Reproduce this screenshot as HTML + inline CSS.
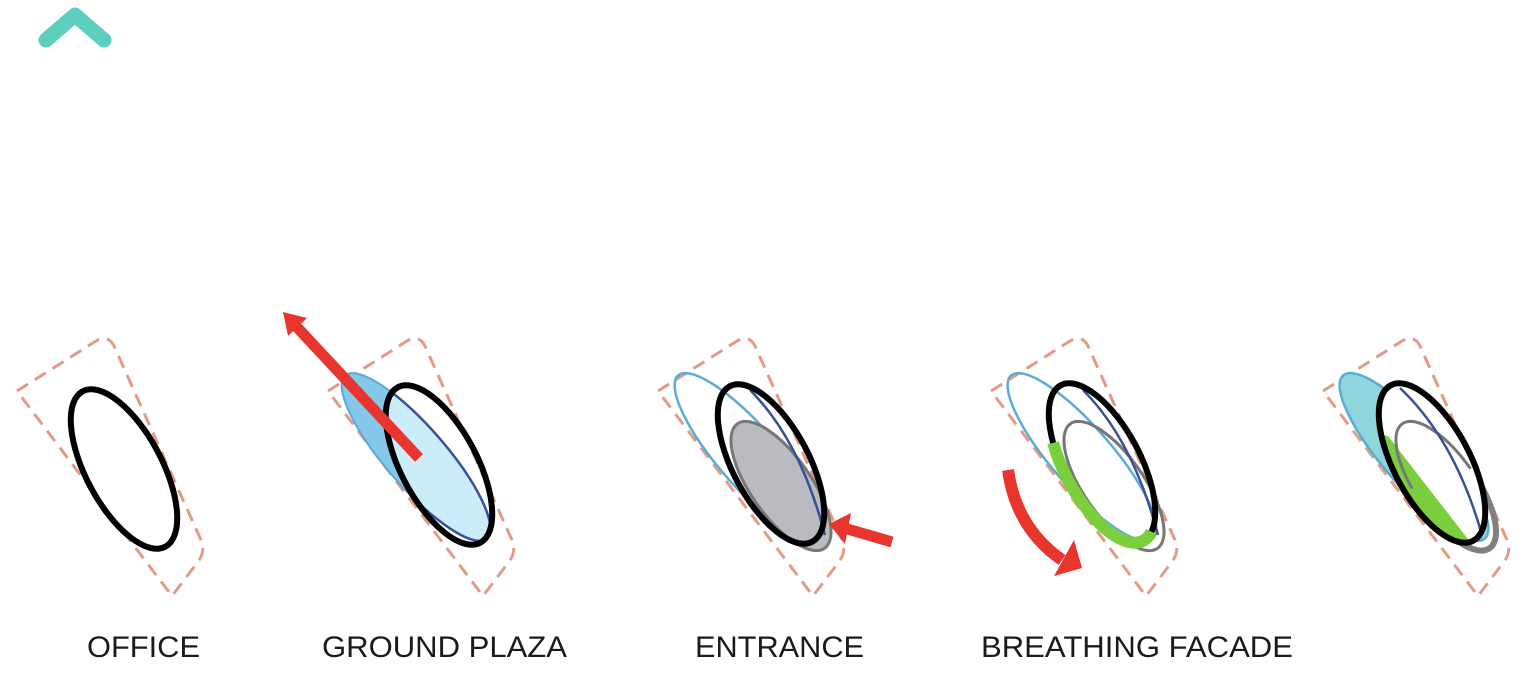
<!DOCTYPE html>
<html><head><meta charset="utf-8"><style>html,body{margin:0;padding:0;background:#fff}svg{display:block}</style></head>
<body>
<svg width="1524" height="674" viewBox="0 0 1524 674" xmlns="http://www.w3.org/2000/svg">
<defs>
<path id="box" d="M17,391 L96,341 Q108,334 114,346 L201,540 Q206,552 197,563 L172,596 Z" fill="none" stroke="#e59a86" stroke-width="3" stroke-dasharray="13 8" stroke-linejoin="round"/>
<clipPath id="cpP"><ellipse cx="0" cy="0" rx="38" ry="88" transform="translate(439,465) rotate(-28)"/></clipPath>
<clipPath id="cpL"><ellipse cx="0" cy="0" rx="38" ry="88" transform="translate(1432,463) rotate(-28)"/></clipPath>
</defs>
<polyline points="46,40 75,15 104,40" fill="none" stroke="#5ccfbf" stroke-width="15" stroke-linecap="round" stroke-linejoin="round"/>

<!-- OFFICE -->
<use href="#box"/>
<ellipse cx="0" cy="0" rx="38" ry="88" transform="translate(124,469) rotate(-28)" fill="none" stroke="#000" stroke-width="6"/>

<!-- GROUND PLAZA -->
<use href="#box" transform="translate(311,0)"/>
<ellipse cx="0" cy="0" rx="30" ry="108" transform="translate(416,457) rotate(-41)" fill="#86c8ea" stroke="#5aa9d6" stroke-width="2"/>
<g clip-path="url(#cpP)"><ellipse cx="0" cy="0" rx="30" ry="108" transform="translate(416,457) rotate(-41)" fill="#cbedf9" stroke="#3a4f9a" stroke-width="2.5"/></g>
<ellipse cx="0" cy="0" rx="38" ry="88" transform="translate(439,465) rotate(-28)" fill="none" stroke="#000" stroke-width="6"/>
<line x1="419" y1="458" x2="294" y2="324" stroke="#e8352e" stroke-width="11"/>
<polygon points="283,312 307,318 288,336" fill="#e8352e"/>

<!-- ENTRANCE -->
<use href="#box" transform="translate(641,0)"/>
<ellipse cx="0" cy="0" rx="30" ry="108" transform="translate(749,457) rotate(-41)" fill="none" stroke="#5aacd6" stroke-width="2.5"/>
<ellipse cx="0" cy="0" rx="30" ry="76" transform="translate(781,486) rotate(-35)" fill="#b9bbc0" stroke="#777" stroke-width="3"/>
<path d="M750,390 Q800,440 825,535" fill="none" stroke="#3a4f9a" stroke-width="2.5"/>
<ellipse cx="0" cy="0" rx="38" ry="88" transform="translate(771,464) rotate(-28)" fill="none" stroke="#000" stroke-width="6"/>
<line x1="892" y1="542" x2="844" y2="528" stroke="#e8352e" stroke-width="11"/>
<polygon points="829,524 851,513 845,544" fill="#e8352e"/>

<!-- BREATHING FACADE -->
<use href="#box" transform="translate(974,0)"/>
<ellipse cx="0" cy="0" rx="30" ry="108" transform="translate(1082,457) rotate(-41)" fill="none" stroke="#5aacd6" stroke-width="2.5"/>
<ellipse cx="0" cy="0" rx="30" ry="76" transform="translate(1114,486) rotate(-35)" fill="none" stroke="#777" stroke-width="3"/>
<path d="M1083,390 Q1133,440 1158,535" fill="none" stroke="#3a4f9a" stroke-width="2.5"/>
<ellipse cx="0" cy="0" rx="38" ry="88" transform="translate(1102,463) rotate(-28)" fill="none" stroke="#000" stroke-width="6"/>
<ellipse cx="0" cy="0" rx="38" ry="88" transform="translate(1102,463) rotate(-28)" fill="none" stroke="#7ccf3c" stroke-width="12" pathLength="100" stroke-dasharray="0 22 38 100"/>
<path d="M1008,470 Q1016,528 1062,560" fill="none" stroke="#e8352e" stroke-width="12"/>
<polygon points="1074,540 1082,568 1054,576" fill="#e8352e"/>

<!-- LAST -->
<use href="#box" transform="translate(1306,0)"/>
<ellipse cx="0" cy="0" rx="30" ry="108" transform="translate(1414,457) rotate(-41)" fill="#8fd5dc" stroke="#5aacd6" stroke-width="2.5"/>
<ellipse cx="0" cy="0" rx="30" ry="76" transform="translate(1446,486) rotate(-35)" fill="none" stroke="#808080" stroke-width="6"/>
<ellipse cx="0" cy="0" rx="38" ry="88" transform="translate(1432,463) rotate(-28)" fill="#fff"/>
<g clip-path="url(#cpL)"><polygon points="1360,430 1388,436 1478,552 1360,570" fill="#7ccf3c"/>
<ellipse cx="0" cy="0" rx="30" ry="76" transform="translate(1446,486) rotate(-35)" fill="none" stroke="#777" stroke-width="3" pathLength="100" stroke-dasharray="0 55 45"/></g>
<path d="M1400,388 Q1455,440 1482,535" fill="none" stroke="#3a4f9a" stroke-width="2.5"/>
<ellipse cx="0" cy="0" rx="38" ry="88" transform="translate(1432,463) rotate(-28)" fill="none" stroke="#000" stroke-width="6"/>

<g font-family="Liberation Sans, sans-serif" font-size="30" fill="#1a1a1a">
<text x="87" y="657" textLength="113" lengthAdjust="spacingAndGlyphs">OFFICE</text>
<text x="322" y="657" textLength="245" lengthAdjust="spacingAndGlyphs">GROUND PLAZA</text>
<text x="695" y="657" textLength="169" lengthAdjust="spacingAndGlyphs">ENTRANCE</text>
<text x="981" y="657" textLength="312" lengthAdjust="spacingAndGlyphs">BREATHING FACADE</text>
</g>
</svg>
</body></html>
